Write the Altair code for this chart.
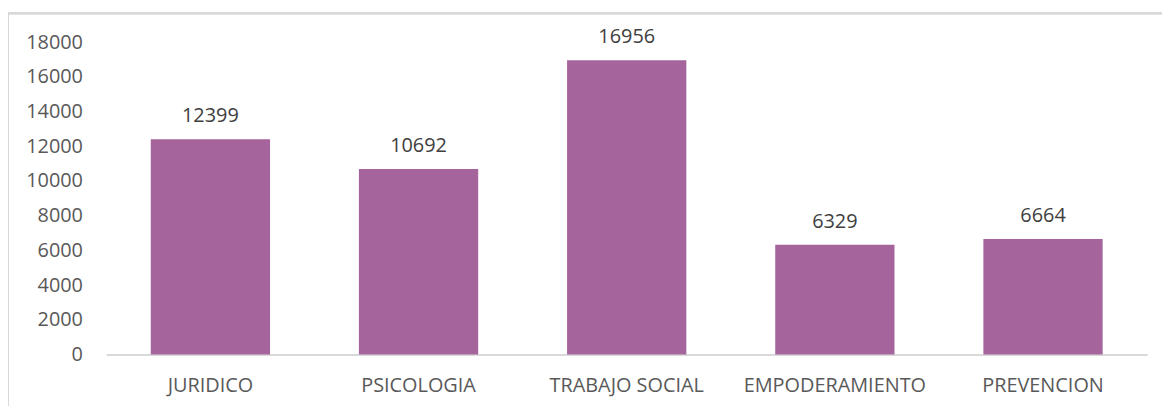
import altair as alt
import pandas as pd

categories = ["JURIDICO", "PSICOLOGIA", "TRABAJO SOCIAL", "EMPODERAMIENTO", "PREVENCION"]
values = [12399, 10692, 16956, 6329, 6664]
y_ticks = list(range(0, 18001, 2000))

df = pd.DataFrame({"cat": categories, "val": values})

W = 1048
H = 314.6
FONT = "Open Sans"
FS = 20
TXT = "#595959"

x_enc = alt.X("cat:N", sort=categories, title=None,
              scale=alt.Scale(paddingInner=0.427, paddingOuter=0.2135),
              axis=alt.Axis(labelAngle=0, ticks=False, domainColor="#D9D9D9", domainWidth=2,
                            labelFont=FONT, labelFontSize=FS, labelColor=TXT, labelPadding=21,
                            grid=False, labelOverlap=False, labelLimit=400))
y_enc = alt.Y("val:Q", title=None,
              scale=alt.Scale(domain=[0, 18000], nice=False),
              axis=alt.Axis(values=y_ticks, ticks=False, domain=False, grid=False,
                            labelFont=FONT, labelFontSize=FS, labelColor=TXT, labelPadding=24,
                            format="d", labelOverlap=False, labelBound=False, labelFlush=False))

bars = alt.Chart(df).mark_bar(color="#A6649D").encode(x=x_enc, y=y_enc)
labels = bars.mark_text(font=FONT, fontSize=FS, color="#404040", baseline="alphabetic", dy=-17).encode(
    text="val:Q")

frame_top = alt.Chart(df).mark_rule(color="#D9D9D9", strokeWidth=2).encode(
    x=alt.value(-99), x2=alt.value(1100), y=alt.value(-29))
frame_left = alt.Chart(df).mark_rule(color="#D9D9D9", strokeWidth=2).encode(
    x=alt.value(-99), y=alt.value(-29), y2=alt.value(400))

chart = alt.layer(bars, labels, frame_top, frame_left).properties(
    width=W, height=H,
    padding={"left": 99, "top": 33, "right": 15, "bottom": 50},
    autosize=alt.AutoSizeParams(type="none"),
).configure_view(stroke=None).configure_axis(labelOverlap=False)

chart.save("out.html", embed_options={"renderer": "svg", "actions": False})
